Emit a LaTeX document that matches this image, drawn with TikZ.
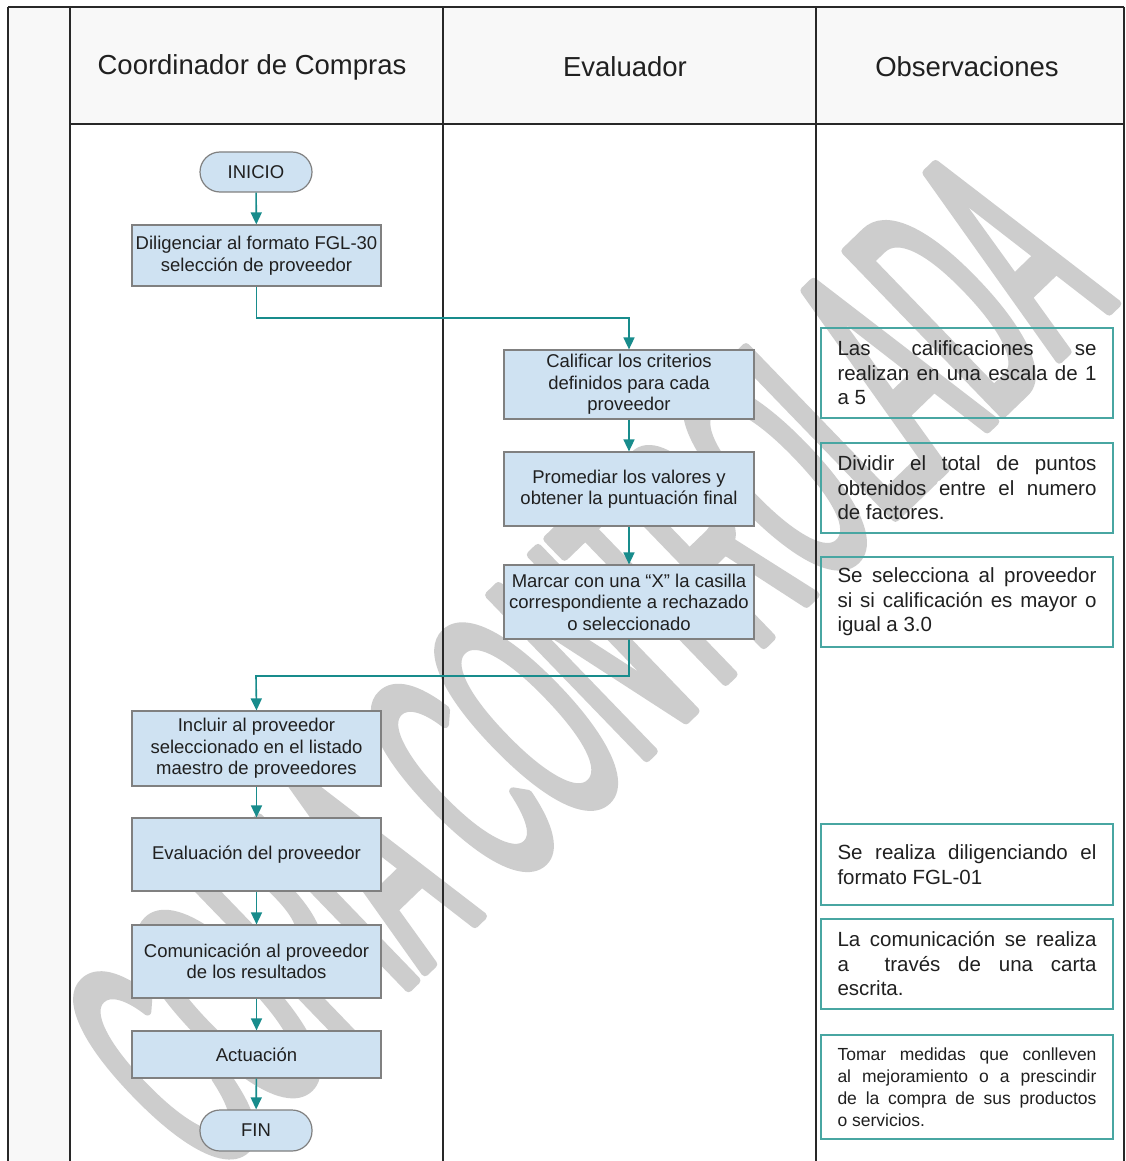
\documentclass[tikz,border=0pt]{standalone}
\usepackage{fontspec}
\setmainfont{Liberation Sans}
\newfontfamily\wmfont{Liberation Sans}[FakeStretch=0.37,FakeBold=2.3]
\usetikzlibrary{arrows.meta}

\definecolor{lanefill}{RGB}{248,248,248}
\definecolor{laneline}{RGB}{40,40,40}
\definecolor{boxfill}{RGB}{207,226,242}
\definecolor{boxline}{RGB}{128,128,128}
\definecolor{flowteal}{RGB}{24,140,140}
\definecolor{noteteal}{RGB}{72,166,162}
\definecolor{wmgray}{RGB}{205,205,205}
\definecolor{ink}{RGB}{32,32,32}

% one justified line of an observation
\newcommand\jl[1]{\makebox[259pt][s]{#1}}

\begin{document}
\begin{tikzpicture}[x=1pt,y=-1pt,
  lane/.style={draw=laneline, line width=1.6pt},
  proc/.style={draw=boxline, fill=boxfill, line width=1.2pt, minimum width=249pt,
    inner sep=0pt, align=center, text=ink, font=\fontsize{18.5}{21.5}\selectfont},
  term/.style={proc, rounded corners=20pt, minimum width=112pt, minimum height=40pt},
  note/.style={draw=noteteal, line width=1.6pt, minimum width=292pt, inner xsep=16.5pt,
    inner ysep=0pt, align=left, text=ink, font=\fontsize{20.5}{24.5}\selectfont},
  smallnote/.style={note, font=\fontsize{17.5}{22}\selectfont},
  flow/.style={draw=flowteal, line width=1.6pt, -{Triangle[length=12pt,width=11pt]}},
  head/.style={text=ink, font=\fontsize{27.5}{33}\selectfont}]

% page and lane backgrounds
\fill[white] (0,0) rectangle (1126,1161);
\useasboundingbox (0,0) rectangle (1126,1161);
\fill[lanefill] (8,7) rectangle (70,1161);
\fill[lanefill] (70,7) rectangle (1124,124);

% watermark
\begin{scope}[line join=round]
  \clip (8,126) rectangle (1126,1161);
  \node[text=wmgray, font=\wmfont\fontsize{330}{330}\selectfont, rotate=44,
        inner sep=0pt] (wm) at (585,660) {COPIA CONTROLADA};
\end{scope}

% swimlane frame
\draw[lane] (8,7) -- (1124,7);
\draw[lane] (70,124) -- (1124,124);
\foreach \x in {8,70,443,816,1124}
  \draw[lane] (\x,7) -- (\x,1161);

% lane headers
\node[head] (h1) at (252,67) {Coordinador de Compras};
\node[head] (h2) at (625,67) {Evaluador};
\node[head] (h3) at (967,67) {Observaciones};

% process steps
\node[term] (inicio) at (256,172) {INICIO};
\node[proc, minimum height=61pt] (dilig) at (256.5,255.5)
  {Diligenciar al formato FGL-30\\selección de proveedor};
\node[proc, minimum width=250pt, minimum height=69pt] (calif) at (629,384.5)
  {Calificar los criterios\\definidos para cada\\proveedor};
\node[proc, minimum width=250pt, minimum height=74pt] (prom) at (629,489)
  {Promediar los valores y\\obtener la puntuación final};
\node[proc, minimum width=250pt, minimum height=74pt] (marcar) at (629,602)
  {Marcar con una “X” la casilla\\correspondiente a rechazado\\o seleccionado};
\node[proc, minimum height=75pt] (incluir) at (256.5,748.5)
  {Incluir al proveedor\\seleccionado en el listado\\maestro de proveedores};
\node[proc, minimum height=73pt] (eval) at (256.5,854.5)
  {Evaluación del proveedor};
\node[proc, minimum height=73pt] (comun) at (256.5,961.5)
  {Comunicación al proveedor\\de los resultados};
\node[proc, minimum height=47pt] (actua) at (256.5,1054.5) {Actuación};
\node[term, minimum height=41pt] (fin) at (256,1130.5) {FIN};

% connectors
\coordinate (b1) at (629,318);
\coordinate (b2) at (256,676);
\draw[flow] (inicio) -- (dilig);
\draw[flow] (dilig.south) |- (b1) -- (calif.north);
\draw[flow] (calif) -- (prom);
\draw[flow] (prom) -- (marcar);
\draw[flow] (marcar.south) |- (b2) -- (incluir.north);
\draw[flow] (incluir) -- (eval);
\draw[flow] (eval) -- (comun);
\draw[flow] (comun) -- (actua);
\draw[flow] (actua) -- (fin);

% observations
\node[note, minimum height=90pt] (o1) at (967,373)
  {\jl{Las calificaciones se}\\\jl{realizan en una escala de 1}\\a 5};
\node[note, minimum height=90pt] (o2) at (967,488)
  {\jl{Dividir el total de puntos}\\\jl{obtenidos entre el numero}\\de factores.};
\node[note, minimum height=90pt] (o3) at (967,602)
  {\jl{Se selecciona al proveedor}\\\jl{si si calificación es mayor o}\\igual a 3.0};
\node[note, minimum height=81pt] (o4) at (967,864.5)
  {\jl{Se realiza diligenciando el}\\formato FGL-01};
\node[note, minimum height=90pt] (o5) at (967,964)
  {\jl{La comunicación se realiza}\\\jl{a \ través de una carta}\\escrita.};
\node[smallnote, minimum height=104pt] (o6) at (967,1087)
  {\jl{Tomar medidas que conlleven}\\\jl{al mejoramiento o a prescindir}\\\jl{de la compra de sus productos}\\o servicios.};
\end{tikzpicture}
\end{document}
